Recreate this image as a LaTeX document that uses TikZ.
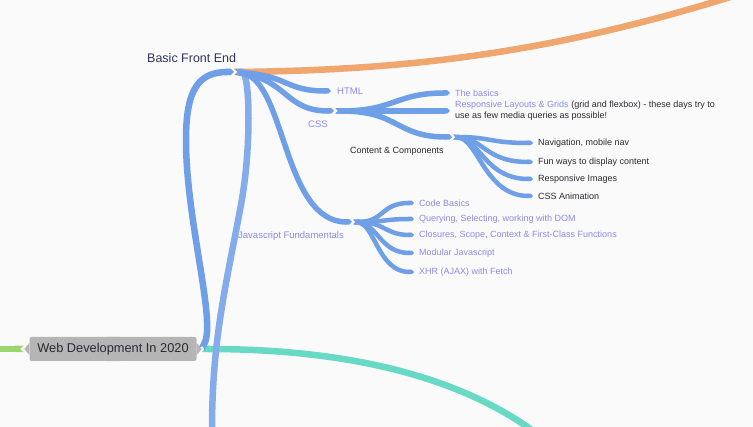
\documentclass[tikz,border=0pt]{standalone}
\usepackage{fontspec}
\setmainfont{Liberation Sans}
\usepackage{tikz}
\usetikzlibrary{arrows.meta}
\definecolor{mapblue}{HTML}{6F9FE7}
\definecolor{lightblue}{HTML}{84ACEB}
\definecolor{maporange}{HTML}{F0A76F}
\definecolor{mapteal}{HTML}{68D9C5}
\definecolor{mapgreen}{HTML}{9AD66B}
\definecolor{boxgray}{HTML}{B5B5B5}
\definecolor{lav}{HTML}{8C8CE6}
\definecolor{navy}{HTML}{2C3560}
\definecolor{ink}{HTML}{2A2A33}

\begin{document}
\begin{tikzpicture}[x=1pt,y=-1pt]
						\tikzstyle{trunk}=[line width=6.5pt,{Triangle Cap[reversed]}-{Triangle Cap}]
						\tikzstyle{branch}=[line width=5.5pt,draw=mapblue,{Triangle Cap[reversed]}-{Triangle Cap},shorten <=1.5pt]
						\tikzstyle{twig}=[line width=4.5pt,draw=mapblue,{Triangle Cap[reversed]}-{Triangle Cap},shorten <=1.5pt]
						\tikzstyle{leaf}=[anchor=west,inner xsep=5pt,inner ysep=1pt,font=\fontsize{9}{11}\selectfont]
						\tikzstyle{sub}=[inner sep=1pt,text=lav,font=\fontsize{9.5}{11}\selectfont]
						\fill[white!98!black] (0,0) rectangle (753,427);
						\useasboundingbox (0,0) rectangle (753,427);
						% centre
						\node[fill=boxgray,rounded corners=2pt,minimum width=167pt,minimum height=24pt,text=ink,font=\fontsize{12.8}{14}\selectfont](root) at (113,349) {Web Development In 2020};
						\fill[boxgray] ([xshift=-7pt]root.north) -- ([yshift=-6pt]root.north) -- ([xshift=7pt]root.north) -- cycle;
						\fill[boxgray] ([xshift=-7pt]root.south) -- ([yshift=6pt]root.south) -- ([xshift=7pt]root.south) -- cycle;
						\fill[boxgray] ([yshift=-6pt]root.west) -- ([xshift=-5pt]root.west) -- ([yshift=6pt]root.west) -- cycle;
						\fill[boxgray] ([yshift=-6pt]root.east) -- ([xshift=5pt]root.east) -- ([yshift=6pt]root.east) -- cycle;
						\coordinate(rootout) at ([xshift=5pt]root.east);
						\coordinate(rootin) at ([xshift=-6pt]root.west);
						\coordinate(greenend) at (-10,349);
						\coordinate(tealend) at (540,436);
						\coordinate(orangeend) at (740,-6);
						\coordinate(downend) at (212,436);
						% junctions
						\coordinate(bfe) at (234,72);
						\coordinate(htmlj) at (331,91);
						\coordinate(cssj) at (334,111);
						\coordinate(ccj) at (452,137);
						\coordinate(jsj) at (352,222);
						% labels
						\node[anchor=west,inner sep=1pt,text=navy,font=\fontsize{12.5}{14}\selectfont](bfelabel) at (146,58) {Basic Front End};
						\node[sub,anchor=west](html) at ([xshift=5pt]htmlj) {HTML};
						\node[sub](css) at (318,124) {CSS};
						\node[sub,anchor=west](js) at (237,236) {Javascript Fundamentals};
						\node[inner sep=1pt,text=ink,anchor=west,font=\fontsize{9}{10}\selectfont](cc) at (349,151) {Content \& Components};
						\node[leaf,text=lav](basics) at (450,93) {The basics};
						\node[leaf,text=ink,align=left](grids) at (450,111) {\textcolor{lav}{Responsive Layouts \& Grids} (grid and flexbox) - these days try to\\use as few media queries as possible!};
						\node[leaf,text=ink](nav) at (533,143) {Navigation, mobile nav};
						\node[leaf,text=ink](fun) at (533,162) {Fun ways to display content};
						\node[leaf,text=ink](img) at (533,179) {Responsive Images};
						\node[leaf,text=ink](anim) at (533,196) {CSS Animation};
						\node[leaf,text=lav](code) at (414,203) {Code Basics};
						\node[leaf,text=lav](dom) at (414,219) {Querying, Selecting, working with DOM};
						\node[leaf,text=lav](clos) at (414,235) {Closures, Scope, Context \& First-Class Functions};
						\node[leaf,text=lav](mod) at (414,253) {Modular Javascript};
						\node[leaf,text=lav](xhr) at (414,272) {XHR (AJAX) with Fetch};
						% main branches
						\draw[trunk,draw=mapgreen,-{Triangle Cap[reversed]}](greenend) -- (rootin);
						\draw[trunk,draw=mapteal](rootout) .. controls (330,349) and (450,370) .. (tealend);
						\draw[trunk,draw=maporange](bfe) .. controls (420,70) and (560,50) .. (orangeend);
						\draw[trunk,draw=mapblue](rootout) .. controls (216,320) and (186,220) .. (186,140) .. controls (186,90) and (198,72) .. (bfe);
						\draw[trunk,draw=lightblue,shorten <=1.5pt](bfe) .. controls (250,72) and (252,150) .. (240,210) .. controls (226,285) and (212,340) .. (downend);
						% front end
						\draw[branch](bfe) .. controls (290,76) and (285,91) .. (htmlj);
						\draw[branch](bfe) .. controls (288,80) and (285,111) .. (cssj);
						\draw[branch](bfe) .. controls (286,78) and (282,222) .. (jsj);
						\draw[branch](cssj) .. controls (395,111) and (395,93) .. (basics.west);
						\draw[branch](cssj) .. controls (390,111) and (400,111) .. (grids.west);
						\draw[branch](cssj) .. controls (400,111) and (395,137) .. (ccj);
						\draw[twig](ccj) .. controls (490,137) and (490,143) .. (nav.west);
						\draw[twig](ccj) .. controls (485,139) and (485,162) .. (fun.west);
						\draw[twig](ccj) .. controls (480,139) and (485,179) .. (img.west);
						\draw[twig](ccj) .. controls (478,139) and (485,196) .. (anim.west);
						\draw[twig](jsj) .. controls (385,222) and (380,203) .. (code.west);
						\draw[twig](jsj) .. controls (385,222) and (385,219) .. (dom.west);
						\draw[twig](jsj) .. controls (385,222) and (385,235) .. (clos.west);
						\draw[twig](jsj) .. controls (378,224) and (380,253) .. (mod.west);
						\draw[twig](jsj) .. controls (375,224) and (378,272) .. (xhr.west);
					\end{tikzpicture}
\end{document}
